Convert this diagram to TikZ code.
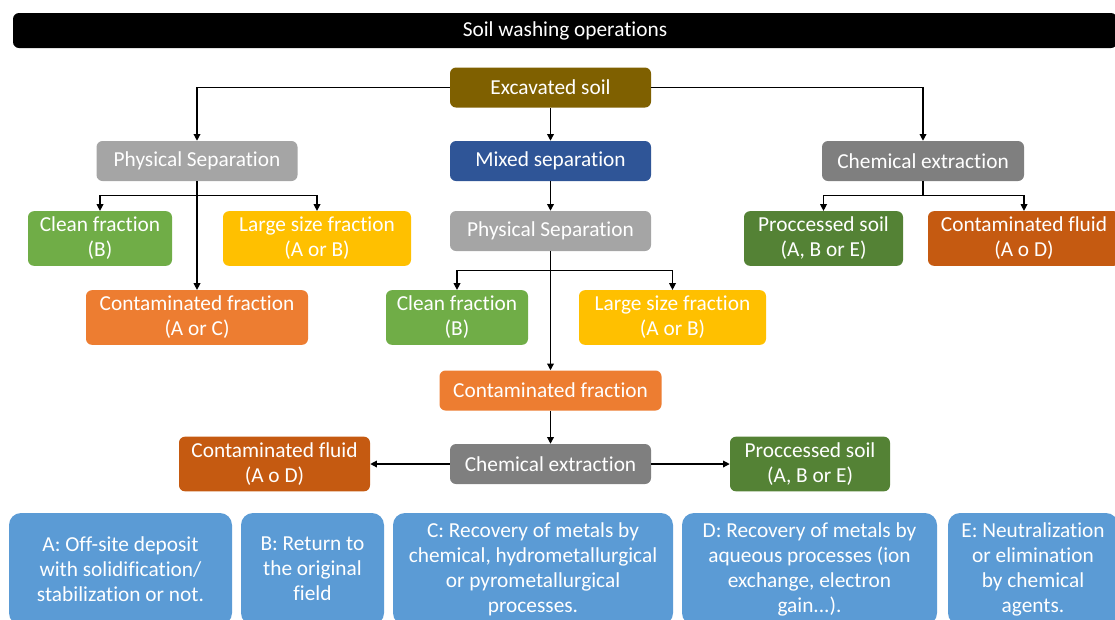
\documentclass[tikz,border=0pt]{standalone}
\usepackage{fontspec}
\setmainfont{Carlito}[Ligatures=NoCommon]
\usetikzlibrary{arrows.meta}
\definecolor{soilbrown}{HTML}{7F6000}
\definecolor{physgray}{HTML}{A5A5A5}
\definecolor{mixblue}{HTML}{2F5597}
\definecolor{chemgray}{HTML}{7F7F7F}
\definecolor{cleangreen}{HTML}{70AD47}
\definecolor{largeyellow}{HTML}{FFC000}
\definecolor{contorange}{HTML}{ED7D31}
\definecolor{procgreen}{HTML}{548235}
\definecolor{fluidorange}{HTML}{C55A11}
\definecolor{notesblue}{HTML}{5B9BD5}

\tikzset{
  box/.style={rounded corners=4.5pt, text=white, align=center, inner sep=0pt,
    font=\fontsize{16}{18.75}\selectfont},
  one/.style={box, minimum width=#1*0.75pt, minimum height=30pt},
  two/.style={box, minimum width=#1*0.75pt, minimum height=41pt},
  note/.style={box, fill=notesblue, rounded corners=9pt, minimum width=#1*0.75pt, minimum height=84pt},
  flow/.style={-{Triangle[length=5pt,width=5pt]}, line width=0.9pt},
}

\begin{document}
\begin{tikzpicture}[x=0.75pt, y=-0.75pt]
    \useasboundingbox (0,0) rectangle (1115,619);

    % Title
    \node[box, fill=black, minimum width=1104*0.75pt, minimum height=26.25pt] (title) at (565,30.5) {Soil washing operations};

    % First level
    \node[one=201, fill=soilbrown] (soil) at (550.5,87.5) {Excavated soil};
    \node[one=201, fill=physgray] (physL) at (197,161) {Physical Separation};
    \node[one=201, fill=mixblue] (mixed) at (550.5,161) {Mixed separation};
    \node[one=202, fill=chemgray] (chemR) at (923,161) {Chemical extraction};

    % Physical separation branch
    \node[two=144, fill=cleangreen] (cleanL) at (100,238.5) {Clean fraction\\(B)};
    \node[two=188, fill=largeyellow] (largeL) at (317,238.5) {Large size fraction\\(A or B)};
    \node[two=222, fill=contorange] (contL) at (197,317.5) {Contaminated fraction\\(A or C)};

    % Mixed separation branch
    \node[one=201, fill=physgray] (physM) at (550.5,231) {Physical Separation};
    \node[two=142, fill=cleangreen] (cleanM) at (457,317.5) {Clean fraction\\(B)};
    \node[two=187, fill=largeyellow] (largeM) at (672.5,317.5) {Large size fraction\\(A or B)};
    \node[one=222, fill=contorange] (contM) at (550.5,390.5) {Contaminated fraction};
    \node[one=201, fill=chemgray] (chemM) at (550.5,464) {Chemical extraction};
    \node[two=191, fill=fluidorange] (fluidM) at (274.5,464) {Contaminated fluid\\(A o D)};
    \node[two=160, fill=procgreen] (procM) at (810,464) {Proccessed soil\\(A, B or E)};

    % Chemical extraction branch
    \node[two=159, fill=procgreen] (procR) at (823.5,238.5) {Proccessed soil\\(A, B or E)};
    \node[two=192, fill=fluidorange] (fluidR) at (1024,238.5) {Contaminated fluid\\(A o D)};

    % Connectors
    \draw[flow] (soil.west) -| (physL.north);
    \draw[flow] (soil.east) -| (chemR.north);
    \draw[flow] (soil) -- (mixed);
    \draw[flow] (mixed) -- (physM);
    \draw[flow] (physL.south) -- ++(0,14) -| (cleanL.north);
    \draw[flow] (physL.south) -- ++(0,14) -| (largeL.north);
    \draw[flow] (physL) -- (contL);
    \draw[flow] (physM.south) -- ++(0,19) -| (cleanM.north);
    \draw[flow] (physM.south) -- ++(0,19) -| (largeM.north);
    \draw[flow] (physM) -- (contM);
    \draw[flow] (contM) -- (chemM);
    \draw[flow] (chemM) -- (fluidM);
    \draw[flow] (chemM) -- (procM);
    \draw[flow] (chemR.south) -- ++(0,14) -| (procR.north);
    \draw[flow] (chemR.south) -- ++(0,14) -| (fluidR.north);

    % Destinations
    \node[note=223] (noteA) at (120.5,569) {A: Off-site deposit\\with solidification/\\stabilization or not.};
    \node[note=143] (noteB) at (312.5,569) {B: Return to\\the original\\field};
    \node[note=280] (noteC) at (533,569) {C: Recovery of metals by\\chemical, hydrometallurgical\\or pyrometallurgical\\processes.};
    \node[note=255] (noteD) at (809.5,569) {D: Recovery of metals by\\aqueous processes (ion\\exchange, electron\\gain...).};
    \node[note=170] (noteE) at (1033,569) {E: Neutralization\\or elimination\\by chemical\\agents.};
\end{tikzpicture}
\end{document}
